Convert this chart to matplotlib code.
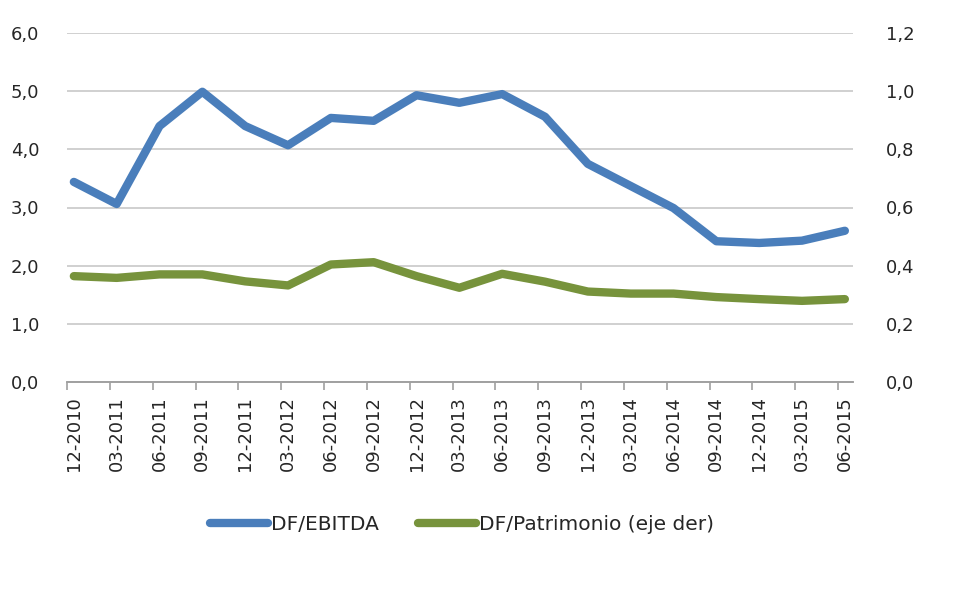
import matplotlib
matplotlib.use("Agg")
import matplotlib.pyplot as plt
from matplotlib.ticker import FuncFormatter, FixedLocator

plt.rcParams["font.family"] = ["DejaVu Sans"]

periods = ["12-2010", "03-2011", "06-2011", "09-2011", "12-2011", "03-2012",
           "06-2012", "09-2012", "12-2012", "03-2013", "06-2013", "09-2013",
           "12-2013", "03-2014", "06-2014", "09-2014", "12-2014", "03-2015",
           "06-2015"]
df_ebitda = [3.44, 3.06, 4.40, 4.99, 4.40, 4.07, 4.54, 4.49, 4.93, 4.80, 4.95,
             4.56, 3.75, 3.37, 2.99, 2.42, 2.39, 2.43, 2.60]
df_patrimonio = [0.364, 0.358, 0.370, 0.370, 0.346, 0.332, 0.404, 0.412, 0.364,
                 0.324, 0.372, 0.345, 0.311, 0.304, 0.304, 0.292, 0.285, 0.279,
                 0.285]

blue = "#4A7EBB"
green = "#77933C"
grid_c = "#C8C8C8"
txt_c = "#262626"

fig = plt.figure(figsize=(9.56, 6.01), dpi=100)
ax = fig.add_axes([67/956, 1-382/601, (853-67)/956, (382-33)/601])
ax2 = ax.twinx()

x = list(range(len(periods)))
ax.plot(x, df_ebitda, color=blue, lw=6, solid_joinstyle="round",
        solid_capstyle="round", label="DF/EBITDA", zorder=3)
ax2.plot(x, df_patrimonio, color=green, lw=6, solid_joinstyle="round",
         solid_capstyle="round", label="DF/Patrimonio (eje der)", zorder=3)

ax.set_ylim(0, 6)
ax2.set_ylim(0, 1.2)
ax.set_yticks([0, 1, 2, 3, 4, 5, 6])
ax2.set_yticks([0, 0.2, 0.4, 0.6, 0.8, 1.0, 1.2])
ax.yaxis.set_major_formatter(FuncFormatter(lambda v, p: f"{v:.1f}".replace(".", ",")))
ax2.yaxis.set_major_formatter(FuncFormatter(lambda v, p: f"{v:.1f}".replace(".", ",")))
ax.set_xlim(-0.16, len(periods) - 1 + 0.19)

ax.grid(axis="y", color=grid_c, lw=1.2)
ax.set_axisbelow(True)

for a in (ax, ax2):
    for s in ("top", "left", "right"):
        a.spines[s].set_visible(False)
    a.spines["bottom"].set_color("#A0A0A0")
    a.spines["bottom"].set_linewidth(1.2)

ax.tick_params(axis="y", length=0, pad=20, labelsize=13, labelcolor=txt_c)
ax2.tick_params(axis="y", length=0, pad=24, labelsize=13, labelcolor=txt_c)

# tick marks slightly left of the points, labels at the points
ax.xaxis.set_major_locator(FixedLocator([i - 0.16 for i in x]))
ax.xaxis.set_major_formatter(FuncFormatter(lambda v, p: ""))
ax.tick_params(axis="x", which="major", length=6, color="#A0A0A0", width=1.2)
ax.set_xticks(x, minor=True)
ax.set_xticklabels(periods, minor=True, rotation=90, fontsize=13, color=txt_c)
ax.tick_params(axis="x", which="minor", length=0, pad=10)

h1, l1 = ax.get_legend_handles_labels()
h2, l2 = ax2.get_legend_handles_labels()
fig.legend(h1 + h2, l1 + l2, loc="center", bbox_to_anchor=(462/956, 1-525/601),
           ncol=2, frameon=False, fontsize=14.5, handlelength=2.9,
           handletextpad=0.15, columnspacing=1.9, labelcolor=txt_c)

fig.savefig("out.png", dpi=100, facecolor="white")
